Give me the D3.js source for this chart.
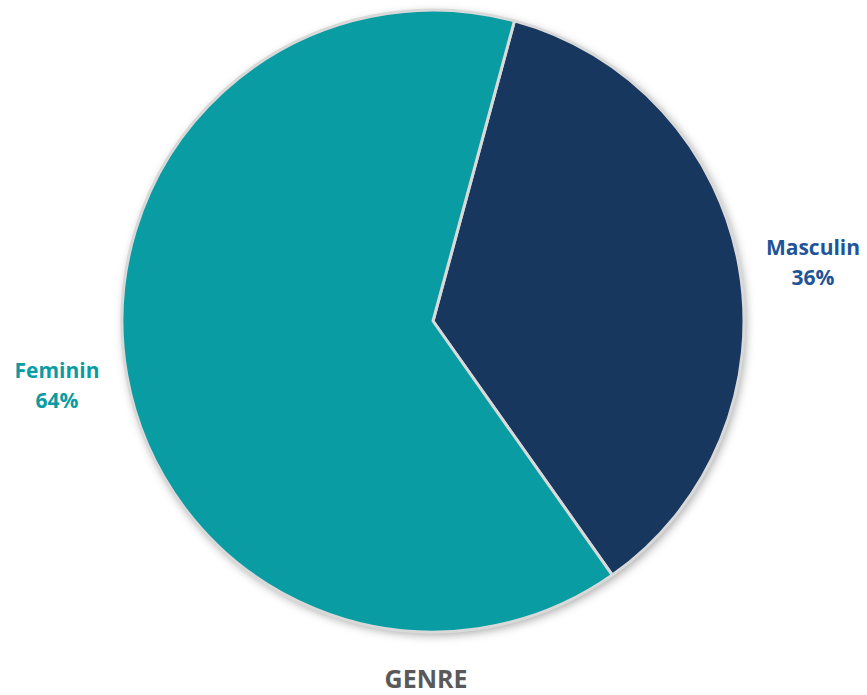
<!DOCTYPE html>
<html>
<head>
<meta charset="utf-8">
<script src="https://cdn.jsdelivr.net/npm/d3@7"></script>
<style>
  body { margin: 0; background: #fff; }
  #chart text { font-family: "Open Sans", sans-serif; font-weight: bold; }
</style>
</head>
<body>
<div id="chart"></div>
<script>
// --- Genre data ---
const categories = ["Masculin", "Feminin"];
const values = [36, 64];
const sliceColors = ["#17375e", "#0a9ca3"];
const labelColors = ["#1f5597", "#0a9ca3"];
const chartTitle = "GENRE";

(function(){
    const W = 867, H = 695;
    const cx = 433, cy = 321, r = 311;

    const svg = d3.select("#chart").append("svg")
        .attr("width", W)
        .attr("height", H);

    // soft shadow like the office chart
    const defs = svg.append("defs");
    const f = defs.append("filter").attr("id", "shadow")
        .attr("x", "-10%").attr("y", "-10%").attr("width", "120%").attr("height", "120%");
    f.append("feDropShadow")
        .attr("dx", 2).attr("dy", 3)
        .attr("stdDeviation", 5)
        .attr("flood-color", "#000")
        .attr("flood-opacity", 0.35);

    const data = categories.map((c, i) => ({ cat: c, value: values[i], i: i }));

    const start = 0.265;
    const pie = d3.pie()
        .value(d => d.value)
        .sort(null)
        .startAngle(start)
        .endAngle(start + 2 * Math.PI);

    const arc = d3.arc().innerRadius(0).outerRadius(r);

    const g = svg.append("g")
        .attr("transform", `translate(${cx},${cy})`);

    g.append("circle")
        .attr("r", r)
        .attr("fill", "#fff")
        .attr("filter", "url(#shadow)");

    g.selectAll("path")
        .data(pie(data))
        .join("path")
        .attr("d", arc)
        .attr("fill", d => sliceColors[d.data.i])
        .attr("stroke", "#d9d9d9")
        .attr("stroke-width", 3)
        .attr("stroke-linejoin", "round");

    // --- Labels ---
    const labelPos = [[813, 255], [57, 378]];
    data.forEach((d, i) => {
        const t = svg.append("text")
            .attr("x", labelPos[i][0])
            .attr("y", labelPos[i][1])
            .attr("text-anchor", "middle")
            .attr("fill", labelColors[i])
            .style("font-size", "21px");
        t.append("tspan").attr("x", labelPos[i][0]).text(d.cat);
        t.append("tspan").attr("x", labelPos[i][0]).attr("dy", 30).text(d.value + "%");
    });

    svg.append("text")
        .attr("x", cx - 7)
        .attr("y", 688)
        .attr("text-anchor", "middle")
        .attr("fill", "#595959")
        .style("font-size", "25px")
        .text(chartTitle);
})();
</script>
</body>
</html>
